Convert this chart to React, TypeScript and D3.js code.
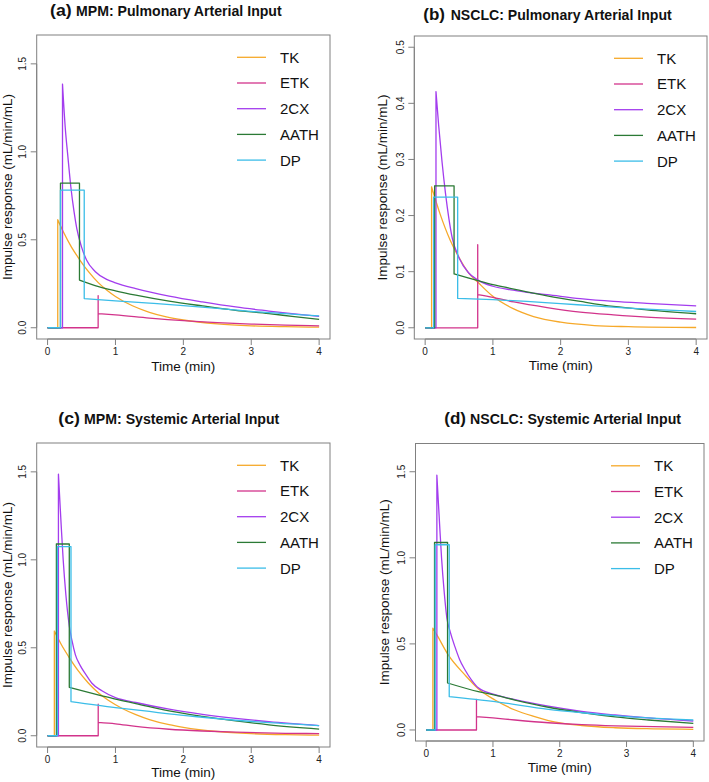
import React from 'react';
import * as d3 from 'd3';

// ---------- data ----------
const SERIES_NAMES = ['TK', 'ETK', '2CX', 'AATH', 'DP'];
const SERIES_COLORS = ['#F6A92A', '#D2338B', '#A33DEE', '#2B7A35', '#3BBDE8'];
const X_TICKS = [0, 1, 2, 3, 4];
const Y_TICKS_WIDE = [0, 0.5, 1.0, 1.5];
const Y_TICKS_NARROW = [0, 0.1, 0.2, 0.3, 0.4, 0.5];
const PANEL_TAGS = ['(a)', '(b)', '(c)', '(d)'];
const PANEL_TITLES = [
  'MPM: Pulmonary Arterial Input',
  'NSCLC: Pulmonary Arterial Input',
  'MPM: Systemic Arterial Input',
  'NSCLC: Systemic Arterial Input',
];
const X_LABEL = 'Time (min)';
const Y_LABEL = 'Impulse response (mL/min/mL)';

// Panel (a) MPM pulmonary — [time (min), response]
const aTK = [[0, 0], [0.15, 0], [0.15, 0.614], [0.23, 0.547], [0.35, 0.46], [0.476, 0.385], [0.6, 0.32], [0.75, 0.255], [0.87, 0.215], [1.0, 0.178], [1.25, 0.125], [1.5, 0.088], [1.75, 0.062], [2.0, 0.044], [2.5, 0.022], [3.0, 0.011], [3.5, 0.006], [4.0, 0.003]];
const aETK = [[0, 0], [0.745, 0], [0.745, 0.183], [0.745, 0.08], [1.0, 0.073], [1.5, 0.055], [2.0, 0.04], [2.5, 0.029], [3.0, 0.021], [3.5, 0.015], [4.0, 0.011]];
const a2CX = [[0, 0], [0.22, 0], [0.22, 1.385], [0.26, 1.14], [0.3, 0.97], [0.343, 0.8], [0.39, 0.66], [0.43, 0.565], [0.5, 0.46], [0.574, 0.385], [0.7, 0.32], [0.87, 0.275], [1.0, 0.255], [1.3, 0.222], [1.79, 0.18], [2.28, 0.147], [2.77, 0.118], [3.26, 0.095], [3.6, 0.08], [4.0, 0.065]];
const aAATH = [[0, 0], [0.19, 0], [0.19, 0.822], [0.47, 0.822], [0.47, 0.271], [0.7, 0.24], [1.0, 0.21], [1.3, 0.185], [1.79, 0.151], [2.28, 0.124], [2.77, 0.099], [3.26, 0.08], [3.6, 0.065], [4.0, 0.048]];
const aDP = [[0, 0], [0.19, 0], [0.19, 0.782], [0.54, 0.782], [0.54, 0.166], [1.0, 0.153], [1.5, 0.14], [2.0, 0.126], [2.5, 0.11], [3.0, 0.093], [3.5, 0.08], [4.0, 0.067]];

// Panel (b) NSCLC pulmonary
const bTK = [[0, 0], [0.095, 0], [0.095, 0.251], [0.22, 0.203], [0.37, 0.156], [0.5, 0.125], [0.64, 0.098], [0.78, 0.081], [1.0, 0.056], [1.3, 0.034], [1.6, 0.02], [2.0, 0.01], [2.5, 0.004], [3.0, 0.002], [4.0, 0.0005]];
const bETK = [[0, 0], [0.776, 0], [0.776, 0.148], [0.776, 0.059], [1.0, 0.054], [1.31, 0.046], [1.8, 0.036], [2.29, 0.028], [2.78, 0.023], [3.27, 0.019], [4.0, 0.0155]];
const b2CX = [[0, 0], [0.16, 0], [0.16, 0.421], [0.2, 0.36], [0.25, 0.295], [0.3, 0.24], [0.35, 0.195], [0.4, 0.16], [0.5, 0.125], [0.64, 0.098], [0.78, 0.085], [1.0, 0.074], [1.3, 0.067], [1.5, 0.063], [1.8, 0.059], [2.29, 0.052], [2.78, 0.047], [3.27, 0.0435], [4.0, 0.039]];
const bAATH = [[0, 0], [0.14, 0], [0.14, 0.253], [0.427, 0.253], [0.427, 0.096], [0.78, 0.084], [1.0, 0.077], [1.31, 0.069], [1.5, 0.064], [1.8, 0.057], [2.29, 0.047], [2.78, 0.038], [3.27, 0.032], [4.0, 0.025]];
const bDP = [[0, 0], [0.125, 0], [0.125, 0.233], [0.48, 0.233], [0.48, 0.0524], [1.0, 0.05], [1.5, 0.047], [2.0, 0.043], [2.5, 0.039], [3.0, 0.035], [3.5, 0.032], [4.0, 0.029]];

// Panel (c) MPM systemic
const cTK = [[0, 0], [0.1, 0], [0.1, 0.595], [0.2, 0.52], [0.31, 0.45], [0.45, 0.37], [0.6, 0.3], [0.76, 0.24], [0.9, 0.2], [1.1, 0.155], [1.3, 0.12], [1.5, 0.092], [1.79, 0.063], [2.0, 0.048], [2.5, 0.024], [3.0, 0.012], [3.5, 0.006], [4.0, 0.003]];
const cETK = [[0, 0], [0.746, 0], [0.746, 0.179], [0.746, 0.076], [1.0, 0.068], [1.3, 0.053], [1.79, 0.037], [2.28, 0.027], [2.77, 0.02], [3.5, 0.014], [4.0, 0.012]];
const c2CX = [[0, 0], [0.16, 0], [0.16, 1.487], [0.2, 1.2], [0.23, 1.0], [0.27, 0.8], [0.32, 0.625], [0.36, 0.54], [0.41, 0.46], [0.48, 0.4], [0.56, 0.35], [0.65, 0.3], [0.8, 0.256], [1.0, 0.217], [1.3, 0.189], [1.79, 0.151], [2.28, 0.122], [2.77, 0.099], [3.26, 0.08], [4.0, 0.058]];
const cAATH = [[0, 0], [0.13, 0], [0.13, 1.09], [0.32, 1.09], [0.32, 0.275], [0.8, 0.227], [1.0, 0.208], [1.3, 0.183], [1.79, 0.141], [2.28, 0.11], [2.77, 0.084], [3.26, 0.062], [4.0, 0.038]];
const cDP = [[0, 0], [0.145, 0], [0.145, 1.075], [0.345, 1.075], [0.345, 0.194], [1.0, 0.16], [1.5, 0.138], [1.79, 0.124], [2.28, 0.105], [2.77, 0.088], [3.26, 0.074], [4.0, 0.058]];

// Panel (d) NSCLC systemic
const dTK = [[0, 0], [0.1, 0], [0.1, 0.591], [0.16, 0.552], [0.33, 0.436], [0.58, 0.32], [0.78, 0.24], [1.03, 0.174], [1.33, 0.116], [1.6, 0.08], [1.83, 0.055], [2.33, 0.026], [2.83, 0.013], [3.4, 0.007], [4.0, 0.004]];
const dETK = [[0, 0], [0.753, 0], [0.753, 0.178], [0.753, 0.0775], [1.0, 0.07], [1.33, 0.058], [1.83, 0.042], [2.33, 0.031], [2.83, 0.024], [3.4, 0.019], [4.0, 0.0155]];
const d2CX = [[0, 0], [0.16, 0], [0.16, 1.48], [0.2, 1.2], [0.23, 1.0], [0.27, 0.8], [0.31, 0.65], [0.36, 0.57], [0.43, 0.484], [0.5, 0.41], [0.58, 0.35], [0.68, 0.29], [0.78, 0.245], [1.03, 0.205], [1.33, 0.176], [1.83, 0.138], [2.33, 0.108], [2.83, 0.087], [3.33, 0.07], [4.0, 0.052]];
const dAATH = [[0, 0], [0.125, 0], [0.125, 1.089], [0.32, 1.089], [0.32, 0.273], [0.78, 0.223], [1.03, 0.203], [1.33, 0.174], [1.83, 0.132], [2.33, 0.101], [2.83, 0.076], [3.33, 0.058], [4.0, 0.038]];
const dDP = [[0, 0], [0.135, 0], [0.135, 1.076], [0.345, 1.076], [0.345, 0.194], [1.03, 0.165], [1.83, 0.12], [2.33, 0.1], [2.83, 0.083], [3.33, 0.07], [4.0, 0.058]];

const PANEL_SERIES = [
  [aTK, aETK, a2CX, aAATH, aDP],
  [bTK, bETK, b2CX, bAATH, bDP],
  [cTK, cETK, c2CX, cAATH, cDP],
  [dTK, dETK, d2CX, dAATH, dDP],
];
const PANEL_YMAX = [1.6, 0.5, 1.6, 1.6];
const PANEL_YTICKS = [Y_TICKS_WIDE, Y_TICKS_NARROW, Y_TICKS_WIDE, Y_TICKS_WIDE];

// ---------- layout ----------
const LAYOUT = [
  { left: 36.7, right: 330, top: 35, bottom: 339, tagX: 50, titleX: 76, titleY: 16, titleW: 205.7, ylabX: 11.8, xlabY: 370.6 },
  { left: 414.3, right: 707, top: 36, bottom: 339, tagX: 423.3, titleX: 450.7, titleY: 20, titleW: 221, ylabX: 387, xlabY: 370.3 },
  { left: 36.7, right: 330, top: 443, bottom: 747, tagX: 58.3, titleX: 84, titleY: 424.3, titleW: 195.3, ylabX: 11.6, xlabY: 777 },
  { left: 415.5, right: 704, top: 443.5, bottom: 741, tagX: 444.3, titleX: 470, titleY: 424.3, titleW: 211, ylabX: 388.6, xlabY: 772.3 },
];

const FONT = '"Liberation Sans", Arial, Helvetica, sans-serif';
const AXIS_COLOR = '#808080';
const TEXT_COLOR = '#222';

function buildPath(pts: number[][], xs: d3.ScaleLinear<number, number>, ys: d3.ScaleLinear<number, number>) {
  const gen = d3.line<number[]>().x(d => xs(d[0])).y(d => ys(d[1])).curve(d3.curveMonotoneX);
  let path = '';
  let run: number[][] = [pts[0]];
  const flush = () => {
    if (run.length > 1) {
      const s = gen(run) || '';
      path += path ? 'L' + s.slice(1) : s;
    } else if (!path) {
      path = `M${xs(run[0][0])},${ys(run[0][1])}`;
    }
  };
  for (let i = 1; i < pts.length; i++) {
    if (pts[i][0] === pts[i - 1][0]) {
      flush();
      path += `L${xs(pts[i][0])},${ys(pts[i][1])}`;
      run = [pts[i]];
    } else {
      run.push(pts[i]);
    }
  }
  flush();
  return path;
}

function Panel({ idx }: { idx: number }) {
  const L = LAYOUT[idx];
  const yMax = PANEL_YMAX[idx];
  const xs = d3.scaleLinear().domain([-0.16, 4.16]).range([L.left, L.right]);
  const ys = d3.scaleLinear().domain([-0.04 * yMax, 1.04 * yMax]).range([L.bottom, L.top]);
  const yTicks = PANEL_YTICKS[idx];
  const midY = (L.top + L.bottom) / 2;
  const midX = (L.left + L.right) / 2;
  const fmtY = d3.format('.1f');
  return (
    <g>
      {/* title */}
      <text x={L.tagX} y={L.titleY} fontFamily={FONT} fontWeight="bold" fontSize={16} fill="#111"
        textLength={21.7} lengthAdjust="spacingAndGlyphs">{PANEL_TAGS[idx]}</text>
      <text x={L.titleX} y={L.titleY} fontFamily={FONT} fontWeight="bold" fontSize={14} fill="#111"
        textLength={L.titleW} lengthAdjust="spacingAndGlyphs">{PANEL_TITLES[idx]}</text>

      {/* box */}
      <rect x={L.left} y={L.top} width={L.right - L.left} height={L.bottom - L.top} fill="none" stroke={AXIS_COLOR} strokeWidth={1} />

      {/* x axis */}
      <line x1={xs(X_TICKS[0])} x2={xs(X_TICKS[X_TICKS.length - 1])} y1={L.bottom} y2={L.bottom} stroke={AXIS_COLOR} />
      {X_TICKS.map(t => (
        <g key={'x' + t}>
          <line x1={xs(t)} x2={xs(t)} y1={L.bottom} y2={L.bottom + 6} stroke={AXIS_COLOR} />
          <text x={xs(t)} y={L.bottom + 16.3} textAnchor="middle" fontFamily={FONT} fontSize={10} fill={TEXT_COLOR}>{t}</text>
        </g>
      ))}

      {/* y axis */}
      <line x1={L.left} x2={L.left} y1={ys(yTicks[0])} y2={ys(yTicks[yTicks.length - 1])} stroke={AXIS_COLOR} />
      {yTicks.map(t => (
        <g key={'y' + t}>
          <line x1={L.left - 6} x2={L.left} y1={ys(t)} y2={ys(t)} stroke={AXIS_COLOR} />
          <text transform={`translate(${L.left - 10.4},${ys(t)}) rotate(-90)`} textAnchor="middle" fontFamily={FONT} fontSize={10} fill={TEXT_COLOR}>{fmtY(t)}</text>
        </g>
      ))}

      {/* axis labels */}
      <text x={midX} y={L.xlabY} textAnchor="middle" fontFamily={FONT} fontSize={13.5} fill="#111">{X_LABEL}</text>
      <text transform={`translate(${L.ylabX},${midY}) rotate(-90)`} textAnchor="middle" fontFamily={FONT} fontSize={13.5} fill="#111">{Y_LABEL}</text>

      {/* series */}
      {PANEL_SERIES[idx].map((pts, i) => (
        <path key={SERIES_NAMES[i]} d={buildPath(pts, xs, ys)} fill="none" stroke={SERIES_COLORS[i]} strokeWidth={1.3} strokeLinejoin="round" />
      ))}

      {/* legend */}
      {SERIES_NAMES.map((name, i) => {
        const yy = L.top + 22.3 + i * 25.7;
        return (
          <g key={'lg' + name}>
            <line x1={L.right - 93} x2={L.right - 64} y1={yy} y2={yy} stroke={SERIES_COLORS[i]} strokeWidth={1.3} />
            <text x={L.right - 50} y={yy + 5.4} fontFamily={FONT} fontSize={15} fill="#111">{name}</text>
          </g>
        );
      })}
    </g>
  );
}

export default function App() {
  return (
    <div style={{ position: 'absolute', left: 0, top: 0 }}>
      <svg width={709} height={782} style={{ display: 'block', background: '#fff' }}>
        {[0, 1, 2, 3].map(i => <Panel key={i} idx={i} />)}
      </svg>
    </div>
  );
}
